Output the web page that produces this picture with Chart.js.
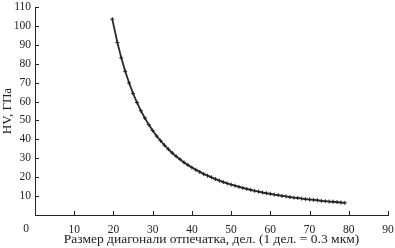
<!DOCTYPE html>
<html>
<head>
<meta charset="utf-8">
<script src="https://cdn.jsdelivr.net/npm/chart.js@4.4.1/dist/chart.umd.min.js"></script>
<style>
    html, body { margin: 0; padding: 0; background: #fff; }
    #c { display: block; }
</style>
</head>
<body>
<canvas id="c" width="395" height="248"></canvas>
<script>
// Размер диагонали отпечатка (дел.)
var diag = [19.7, 21, 22, 23, 24, 25, 26, 27, 28, 29, 30, 31, 32, 33, 34, 35, 36, 37, 38, 39,
            40, 41, 42, 43, 44, 45, 46, 47, 48, 49, 50, 51, 52, 53, 54, 55, 56, 57, 58, 59,
            60, 61, 62, 63, 64, 65, 66, 67, 68, 69, 70, 71, 72, 73, 74, 75, 76, 77, 78, 79];
// HV, ГПа
var hv = [103.6, 91.2, 83.1, 76.0, 69.8, 64.3, 59.5, 55.1, 51.3, 47.8, 44.7, 41.8, 39.3, 36.9, 34.8, 32.8, 31.0, 29.4, 27.8, 26.4,
          25.1, 23.9, 22.8, 21.7, 20.8, 19.9, 19.0, 18.2, 17.4, 16.7, 16.1, 15.5, 14.9, 14.3, 13.8, 13.3, 12.8, 12.4, 11.9, 11.5,
          11.2, 10.8, 10.5, 10.1, 9.8, 9.5, 9.2, 9.0, 8.7, 8.4, 8.2, 8.0, 7.8, 7.5, 7.3, 7.1, 7.0, 6.8, 6.6, 6.4];
var xTicks = [0, 10, 20, 30, 40, 50, 60, 70, 80, 90];
var yTicks = [10, 20, 30, 40, 50, 60, 70, 80, 90, 100, 110];

var FONT = "'Liberation Serif', 'Times New Roman', serif";
var INK = '#222';

var points = diag.map(function(d, i) { return { x: d, y: hv[i] }; });

// inward tick marks and the shared origin "0"
var innerTicks = {
    id: 'innerTicks',
    afterDraw: function(chart) {
        var c = chart.ctx, x = chart.scales.x, y = chart.scales.y;
        var area = chart.chartArea;
        c.save();
        c.strokeStyle = INK;
        c.lineWidth = 1;
        c.beginPath();
        xTicks.forEach(function(v) {
            if (v === 0) return;
            var px = Math.round(x.getPixelForValue(v)) + 0.5;
            c.moveTo(px, area.bottom);
            c.lineTo(px, area.bottom - 4);
        });
        yTicks.forEach(function(v) {
            var py = Math.round(y.getPixelForValue(v)) + 0.5;
            c.moveTo(area.left, py);
            c.lineTo(area.left + 4, py);
        });
        c.stroke();
        c.fillStyle = INK;
        c.font = '11.5px ' + FONT;
        c.textAlign = 'center';
        c.textBaseline = 'top';
        c.fillText('0', x.getPixelForValue(0) - 9, area.bottom + 8);
        c.restore();
    }
};

new Chart(document.getElementById('c'), {
    type: 'scatter',
    data: {
        datasets: [{
            data: points,
            showLine: true,
            borderColor: '#2a2a2a',
            borderWidth: 1.8,
            pointStyle: 'cross',
            pointRadius: 2,
            pointBorderColor: '#222',
            pointBorderWidth: 1,
            tension: 0
        }]
    },
    options: {
        responsive: false,
        animation: false,
        layout: { padding: { top: 7, right: 7, left: 0, bottom: 0 } },
        plugins: { legend: { display: false }, tooltip: { enabled: false } },
        scales: {
            x: {
                type: 'linear',
                min: 0,
                max: 90,
                afterBuildTicks: function(scale) {
                    scale.ticks = xTicks.map(function(v) { return { value: v }; });
                },
                afterFit: function(scale) {
                    scale.height = 33;
                    scale.paddingLeft = 0;
                    scale.paddingRight = 0;
                },
                grid: { display: false, drawTicks: false },
                border: { display: true, color: INK, width: 1 },
                ticks: {
                    padding: 8,
                    color: INK,
                    font: { family: FONT, size: 11.5 },
                    callback: function(v) { return v === 0 ? '' : v; }
                },
                title: {
                    display: true,
                    text: 'Размер диагонали отпечатка, дел. (1 дел. = 0.3 мкм)',
                    color: INK,
                    font: { family: FONT, size: 13.5 },
                    padding: { top: 0, bottom: 0 }
                }
            },
            y: {
                type: 'linear',
                min: 0,
                max: 110,
                afterBuildTicks: function(scale) {
                    scale.ticks = yTicks.map(function(v) { return { value: v }; });
                },
                afterFit: function(scale) {
                    scale.width = 35;
                    scale.paddingTop = 0;
                    scale.paddingBottom = 0;
                },
                grid: { display: false, drawTicks: false },
                border: { display: true, color: INK, width: 1 },
                ticks: {
                    padding: 4,
                    color: INK,
                    font: { family: FONT, size: 11.5 }
                },
                title: {
                    display: true,
                    text: 'HV, ГПа',
                    color: INK,
                    font: { family: FONT, size: 13 },
                    padding: { top: 0, bottom: 0 }
                }
            }
        }
    },
    plugins: [innerTicks]
});
</script>
</body>
</html>
